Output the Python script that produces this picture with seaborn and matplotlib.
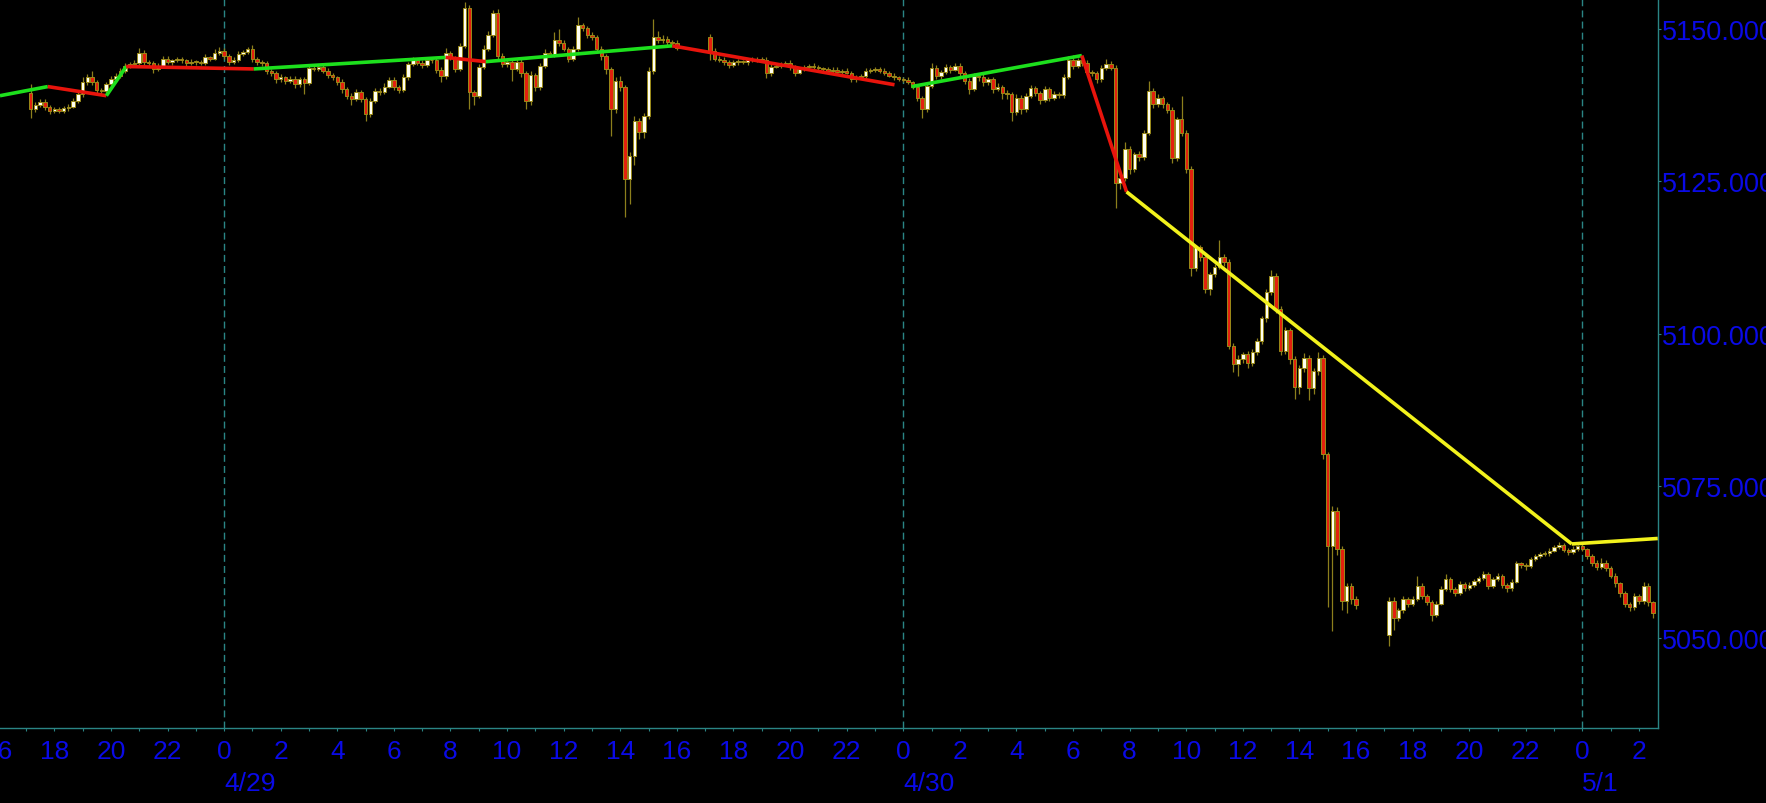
import matplotlib
matplotlib.use("Agg")
import numpy as np
import matplotlib.pyplot as plt
import matplotlib.transforms as mtransforms
from matplotlib import font_manager
import seaborn as sns

# ---------------- data ----------------
# time axis: hours from 4/29 00:00 ; 10-minute candles, slot k -> t = -8 + k/6
s1_first_slot = 7
s1_first_open = 5139.6
s1_close = [
    5136.9, 5137.6, 5138.1, 5137.2, 5136.6, 5136.9, 5136.6, 5137.0, 5137.3, 5138.3,
    5139.4, 5141.3, 5142.1, 5141.3, 5140.0, 5139.8, 5141.0, 5141.8, 5142.4, 5143.2,
    5144.0, 5144.3, 5144.5, 5146.1, 5144.6, 5144.4, 5143.5, 5144.0, 5145.2, 5144.6,
    5144.9, 5145.1, 5144.9, 5144.5, 5144.7, 5144.6, 5144.5, 5145.4, 5145.2, 5146.2,
    5146.5, 5145.6, 5144.6, 5145.0, 5146.0, 5146.3, 5146.7, 5145.1, 5144.6, 5144.4,
    5143.2, 5142.8, 5141.8, 5142.1, 5141.6, 5141.9, 5141.0, 5141.8, 5141.2, 5143.6,
    5143.5, 5143.8, 5143.2, 5142.5, 5142.1, 5141.4, 5140.2, 5139.1, 5138.6, 5139.7,
    5138.6, 5136.1, 5138.3, 5139.9, 5139.7, 5140.6, 5141.7, 5140.6, 5140.1, 5142.1,
    5144.3, 5144.9, 5144.5, 5144.2, 5144.9, 5145.0, 5143.4, 5142.3, 5146.1, 5145.4,
    5143.5, 5147.3, 5153.6, 5139.7, 5139.1, 5143.8, 5146.8, 5149.1, 5152.7, 5145.7,
    5144.3, 5144.6, 5143.5, 5144.7, 5142.8, 5138.3, 5142.5, 5140.5, 5144.0, 5146.1,
    5145.8, 5148.3, 5147.8, 5146.8, 5145.2, 5146.8, 5150.7, 5150.2, 5149.1, 5148.7,
    5146.8, 5145.6, 5143.5, 5136.9, 5141.6, 5140.6, 5125.4, 5129.2, 5135.0, 5133.1,
    5135.8, 5143.2, 5148.7, 5148.2, 5148.5, 5147.9, 5147.8, 5147.0]
s1_wick_up = [
    1.4, 0.4, 0.5, 0.4, 0.3, 0.4, 0.3, 0.4, 0.4, 0.5,
    0.5, 0.8, 0.6, 1.0, 0.4, 0.3, 0.4, 0.5, 0.4, 0.5,
    0.4, 0.3, 0.4, 0.9, 0.5, 0.3, 0.4, 0.4, 0.4, 0.5,
    0.3, 0.4, 0.3, 0.3, 0.4, 0.3, 0.4, 0.5, 0.3, 0.5,
    0.6, 0.4, 0.3, 0.4, 0.4, 0.3, 0.4, 0.8, 0.3, 0.4,
    0.4, 0.3, 0.4, 0.5, 0.3, 0.4, 0.4, 0.4, 0.3, 0.5,
    0.4, 0.5, 0.3, 0.4, 0.4, 0.3, 0.4, 0.3, 0.4, 0.5,
    0.4, 0.3, 0.4, 0.5, 0.4, 0.6, 0.5, 0.4, 0.3, 0.5,
    0.4, 0.5, 0.3, 0.4, 0.5, 0.4, 0.3, 0.4, 0.8, 0.4,
    0.3, 0.5, 0.9, 0.4, 0.3, 0.5, 0.6, 0.6, 0.5, 0.7,
    0.4, 0.5, 0.4, 0.5, 0.4, 0.3, 0.6, 0.4, 0.5, 0.6,
    0.4, 1.2, 1.8, 0.4, 0.3, 0.5, 1.3, 0.4, 0.3, 0.4,
    0.3, 0.4, 0.3, 0.4, 0.6, 0.8, 0.3, 0.6, 0.7, 0.4,
    0.5, 0.6, 3.0, 1.0, 0.5, 0.4, 0.3, 0.4]
s1_wick_dn = [
    1.4, 0.4, 0.3, 0.4, 0.5, 0.3, 0.4, 0.3, 0.4, 0.3,
    0.4, 0.5, 0.4, 0.4, 0.6, 0.4, 0.3, 0.4, 0.3, 0.4,
    0.3, 0.4, 0.5, 0.3, 0.4, 0.4, 0.6, 0.3, 0.4, 0.3,
    0.4, 0.3, 0.4, 0.5, 0.3, 0.4, 0.3, 0.4, 0.4, 0.3,
    0.4, 0.5, 0.4, 0.3, 0.4, 0.3, 0.4, 0.4, 0.5, 0.4,
    0.5, 0.4, 0.6, 0.4, 0.5, 0.4, 0.6, 0.4, 1.8, 0.4,
    0.4, 0.3, 0.4, 0.5, 0.4, 0.5, 0.6, 0.5, 1.0, 0.4,
    0.6, 1.2, 0.5, 0.4, 0.5, 0.4, 0.3, 0.5, 0.6, 0.4,
    0.4, 0.3, 0.4, 0.5, 0.3, 0.4, 0.6, 1.0, 0.4, 0.4,
    0.5, 0.4, 0.3, 2.8, 1.5, 0.4, 0.3, 0.4, 0.3, 0.5,
    0.4, 0.5, 2.0, 0.4, 0.6, 1.4, 0.8, 0.6, 0.4, 0.3,
    0.4, 0.4, 0.5, 0.4, 0.6, 0.4, 0.3, 0.4, 0.5, 0.4,
    0.5, 0.6, 0.8, 4.4, 0.6, 0.8, 6.3, 4.1, 1.5, 1.2,
    1.0, 0.6, 0.5, 0.4, 0.5, 0.4, 0.3, 0.4]

s2_first_slot = 151
s2_first_open = 5148.7
s2_close = [
    5146.4, 5145.2, 5145.0, 5144.6, 5144.1, 5144.6, 5144.7, 5144.6, 5144.9, 5145.0,
    5145.1, 5144.9, 5142.8, 5143.9, 5144.0, 5144.3, 5144.5, 5143.8, 5142.9, 5143.5,
    5143.8, 5144.0, 5143.8, 5143.6, 5143.5, 5143.2, 5143.4, 5143.0, 5143.2, 5142.9,
    5141.8, 5142.1, 5142.4, 5143.2, 5143.4, 5143.5, 5143.2, 5142.9, 5142.4, 5142.1,
    5141.8, 5141.7, 5141.3, 5140.6, 5138.8, 5136.9, 5140.7, 5143.6, 5142.3, 5143.0,
    5143.8, 5143.4, 5144.0, 5142.9, 5141.6, 5140.2, 5142.4, 5142.1, 5141.3, 5141.8,
    5140.2, 5140.6, 5139.6, 5139.4, 5136.5, 5138.8, 5136.9, 5139.1, 5140.3, 5139.5,
    5138.4, 5140.2, 5138.8, 5139.4, 5139.2, 5142.1, 5145.0, 5144.0, 5144.9, 5144.5,
    5143.0, 5142.8, 5141.8, 5143.6, 5144.3, 5143.7, 5124.8, 5125.6, 5130.3, 5127.0,
    5129.5, 5129.0, 5133.0, 5139.9, 5137.7, 5138.7, 5137.7, 5136.8, 5128.9, 5135.2,
    5133.0, 5127.0, 5110.8, 5114.2, 5112.5, 5107.3, 5109.8, 5111.0, 5112.5, 5111.7,
    5098.0, 5095.0, 5095.8, 5096.6, 5095.2, 5097.0, 5098.8, 5102.5, 5106.8, 5109.5,
    5104.0, 5097.2, 5100.5, 5095.8, 5091.2, 5094.3, 5096.0, 5091.0, 5093.8, 5096.0,
    5080.2, 5065.1, 5070.9, 5064.6, 5056.1, 5058.5, 5056.4, 5055.3]
s2_wick_up = [
    0.5, 0.6, 0.4, 0.5, 0.4, 0.3, 0.4, 0.3, 0.4, 0.4,
    0.3, 0.4, 0.5, 0.4, 0.3, 0.4, 0.3, 0.5, 0.4, 0.3,
    0.4, 0.3, 0.5, 0.4, 0.3, 0.4, 0.5, 0.4, 0.3, 0.4,
    0.3, 0.4, 0.3, 0.4, 0.3, 0.4, 0.3, 0.4, 0.3, 0.4,
    0.3, 0.4, 0.5, 0.3, 0.4, 0.3, 0.4, 0.8, 0.5, 0.4,
    0.5, 0.4, 0.4, 0.5, 0.3, 0.4, 0.5, 0.4, 0.6, 0.4,
    0.4, 0.6, 0.3, 0.4, 0.3, 0.5, 0.4, 0.5, 0.6, 0.4,
    0.4, 0.5, 0.3, 0.4, 0.3, 0.5, 0.6, 0.8, 0.4, 0.3,
    0.4, 0.3, 0.4, 0.5, 0.9, 0.5, 0.4, 0.4, 1.2, 0.6,
    0.4, 0.5, 0.4, 1.6, 0.4, 0.6, 0.3, 0.4, 0.5, 0.4,
    3.8, 0.4, 0.5, 0.4, 0.3, 0.4, 0.3, 0.4, 2.8, 0.5,
    0.5, 0.4, 0.6, 0.4, 0.5, 0.4, 0.5, 0.4, 0.6, 0.9,
    0.4, 0.5, 0.6, 0.4, 0.5, 0.6, 0.8, 0.4, 0.5, 1.0,
    0.5, 0.4, 0.8, 0.6, 0.5, 0.4, 0.5, 0.4]
s2_wick_dn = [
    1.5, 0.4, 0.3, 0.5, 0.4, 0.3, 0.4, 0.3, 0.4, 0.3,
    0.4, 0.3, 0.8, 0.4, 0.3, 0.4, 0.3, 0.4, 0.5, 0.3,
    0.4, 0.3, 0.4, 0.3, 0.4, 0.3, 0.4, 0.3, 0.4, 0.3,
    0.5, 0.4, 0.3, 0.4, 0.3, 0.4, 0.3, 0.4, 0.3, 0.4,
    0.3, 0.4, 0.3, 0.4, 0.6, 1.4, 0.5, 0.4, 0.5, 0.4,
    0.4, 0.5, 0.3, 0.5, 0.6, 0.8, 0.4, 0.5, 0.6, 0.4,
    0.6, 0.4, 1.0, 0.8, 1.5, 0.5, 0.8, 0.4, 0.4, 0.5,
    0.6, 0.4, 0.5, 0.4, 0.5, 0.4, 0.3, 0.5, 0.4, 0.5,
    0.4, 0.5, 0.6, 0.4, 0.3, 0.4, 4.1, 1.0, 0.6, 0.8,
    0.5, 0.6, 0.5, 0.4, 0.6, 0.5, 0.6, 0.5, 0.8, 0.6,
    0.5, 0.6, 1.3, 0.5, 0.6, 0.6, 1.0, 0.5, 0.4, 0.6,
    0.6, 1.4, 2.0, 0.6, 0.8, 0.5, 0.6, 0.5, 0.6, 0.5,
    0.6, 0.8, 0.6, 0.8, 1.9, 1.2, 0.6, 2.0, 1.0, 0.6,
    0.8, 10.0, 14.0, 1.0, 1.5, 2.0, 0.8, 0.6]

s3_first_slot = 295
s3_first_open = 5050.5
s3_close = [
    5056.1, 5053.2, 5054.5, 5056.3, 5055.6, 5056.4, 5058.5, 5056.9, 5055.8, 5053.8,
    5055.6, 5058.0, 5059.6, 5058.0, 5057.4, 5058.8, 5058.2, 5058.7, 5059.3, 5059.8,
    5060.5, 5058.5, 5059.6, 5060.2, 5058.6, 5058.1, 5059.2, 5062.2, 5061.9, 5061.7,
    5063.0, 5063.4, 5063.7, 5063.9, 5064.3, 5064.9, 5065.3, 5064.4, 5064.0, 5064.6,
    5065.0, 5064.5, 5063.4, 5062.2, 5061.6, 5062.3, 5061.4, 5060.2, 5058.9, 5057.3,
    5055.6, 5055.0, 5056.8, 5056.0, 5058.5, 5055.8, 5054.1]
s3_wick_up = [
    0.5, 0.6, 0.4, 0.5, 0.4, 0.5, 1.7, 0.4, 0.3, 0.4,
    0.4, 0.5, 0.8, 0.4, 0.3, 0.5, 0.3, 0.4, 0.3, 0.4,
    0.5, 0.3, 0.4, 0.5, 0.3, 0.4, 0.4, 0.4, 0.3, 0.4,
    0.3, 0.4, 0.3, 0.3, 0.4, 0.3, 0.4, 0.3, 0.3, 0.4,
    0.3, 0.4, 0.3, 0.4, 0.5, 0.8, 0.4, 0.3, 0.4, 0.3,
    0.4, 0.3, 0.5, 0.4, 0.6, 0.4, 0.3]
s3_wick_dn = [
    1.9, 2.0, 0.5, 0.4, 0.5, 0.4, 0.3, 0.5, 0.4, 1.0,
    0.4, 0.3, 0.4, 0.5, 0.6, 0.4, 0.5, 0.3, 0.4, 0.3,
    0.4, 0.5, 0.4, 0.3, 0.5, 0.6, 0.4, 0.3, 0.4, 0.5,
    0.3, 0.4, 0.3, 0.3, 0.4, 0.3, 0.4, 0.3, 0.4, 0.3,
    0.4, 0.3, 0.4, 0.5, 0.4, 0.3, 0.5, 0.4, 0.5, 0.6,
    0.5, 0.6, 0.4, 0.5, 0.4, 0.6, 0.8]

# zigzag indicator (hours from 4/29 00:00, price)
zz1_t = [-7.92, -6.23, -4.16, -3.46, 1.05, 7.83, 9.25, 15.84, 23.69]
zz1_v = [5139.1, 5140.6, 5139.1, 5143.9, 5143.5, 5145.4, 5144.7, 5147.3, 5140.9]
zz2_t = [24.29, 30.31, 31.89, 47.62, 50.66]
zz2_v = [5140.6, 5145.7, 5123.3, 5065.4, 5066.3]

hour_ticks = list(range(-6, 51, 2))
hour_labels = [str(h % 24) for h in hour_ticks]
date_ticks = [0, 24, 48]
date_labels = ["4/29", "4/30", "5/1"]
price_ticks = [5050, 5075, 5100, 5125, 5150]

# ---------------- style ----------------
BG = "#000000"
TEAL = "#2a8585"
BLUE = "#0a0ae6"
RED_FILL = "#e3200e"
WHITE_FILL = "#fffff2"
EDGE = "#9a8a18"
WICK = "#8c7f1c"
ZZ = {"g": "#1de01d", "r": "#e8140c", "y": "#f2f21c"}
zz1_col = ["g", "r", "g", "r", "g", "r", "g", "r"]
zz2_col = ["g", "r", "y", "y"]

sns.set_theme(style="dark", rc={"axes.facecolor": BG, "figure.facecolor": BG,
                                "axes.edgecolor": TEAL, "axes.grid": False})
names = {f.name for f in font_manager.fontManager.ttflist}
base_font = "Liberation Sans" if "Liberation Sans" in names else "DejaVu Sans"
plt.rcParams["font.family"] = [base_font, "DejaVu Sans"]
XSIZE = 19
YSIZE = 19.5

W, H = 1766, 804
fig = plt.figure(figsize=(W / 100, H / 100), dpi=100)
ax_w, ax_h = 1658, 729
ax = fig.add_axes([0, 1 - ax_h / H, ax_w / W, ax_h / H])
ax.set_facecolor(BG)

xmin, xmax = -7.919, 50.67
ymin, ymax = 5035.14, 5155.0

for d in date_ticks:
    ax.axvline(d, color=TEAL, lw=1.0, ls=(0, (5, 3)), zorder=1)

bw = 0.74 / 6.0


def draw_session(first_slot, first_open, closes, wu, wd):
    c = np.asarray(closes, float)
    o = np.concatenate([[first_open], c[:-1]])
    k = first_slot + np.arange(len(c))
    t = -8 + k / 6.0
    top = np.maximum(o, c)
    bot = np.minimum(o, c)
    hi = top + np.asarray(wu, float)
    lo = bot - np.asarray(wd, float)
    ax.vlines(t, lo, hi, color=WICK, lw=0.9, zorder=2)
    h = np.maximum(top - bot, 0.15)
    up = c >= o
    ax.bar(t[up], h[up], bottom=bot[up], width=bw, color=WHITE_FILL,
           edgecolor=EDGE, linewidth=0.7, zorder=3)
    ax.bar(t[~up], h[~up], bottom=bot[~up], width=bw, color=RED_FILL,
           edgecolor=EDGE, linewidth=0.7, zorder=3)


draw_session(s1_first_slot, s1_first_open, s1_close, s1_wick_up, s1_wick_dn)
draw_session(s2_first_slot, s2_first_open, s2_close, s2_wick_up, s2_wick_dn)
draw_session(s3_first_slot, s3_first_open, s3_close, s3_wick_up, s3_wick_dn)

for ts, vs, cols in ((zz1_t, zz1_v, zz1_col), (zz2_t, zz2_v, zz2_col)):
    for i, cc in enumerate(cols):
        sns.lineplot(x=ts[i:i + 2], y=vs[i:i + 2], color=ZZ[cc], lw=2.6,
                     ax=ax, legend=False, zorder=5, solid_capstyle="butt")

ax.set_xlim(xmin, xmax)
ax.set_ylim(ymin, ymax)

for s in ("left", "top"):
    ax.spines[s].set_visible(False)
for s in ("right", "bottom"):
    ax.spines[s].set_visible(True)
    ax.spines[s].set_color(TEAL)
    ax.spines[s].set_linewidth(1.0)

XPAD = 5.6
ax.set_xticks(hour_ticks)
ax.set_xticklabels(hour_labels)
ax.set_xticks(list(range(-7, 51, 1)), minor=True)
ax.tick_params(axis="x", which="both", direction="out", length=2.2, width=0.8,
               color=TEAL, labelcolor=BLUE, labelsize=XSIZE, pad=XPAD, bottom=True)
ax.yaxis.tick_right()
ax.set_yticks(price_ticks)
ax.set_yticklabels([f"{p:.3f}" for p in price_ticks])
ax.tick_params(axis="y", direction="out", length=2.2, width=0.8, color=TEAL,
               labelcolor=BLUE, labelsize=YSIZE, pad=0.8, right=True, left=False)
ax.set_xlabel("")
ax.set_ylabel("")

trans = mtransforms.blended_transform_factory(ax.transData, ax.transAxes)
hour_off = mtransforms.offset_copy(trans, fig=fig, y=-(2.2 + XPAD), units="points")
ax.text(-8, 0, "16", transform=hour_off, ha="center", va="top", color=BLUE,
        fontsize=XSIZE, clip_on=False)
date_off = mtransforms.offset_copy(trans, fig=fig, y=-31.0, units="points")
for d, lab in zip(date_ticks, date_labels):
    ax.text(d, 0, lab, transform=date_off, ha="left", va="top", color=BLUE,
            fontsize=XSIZE, clip_on=False)

fig.savefig("out.png", dpi=100, facecolor=BG)
